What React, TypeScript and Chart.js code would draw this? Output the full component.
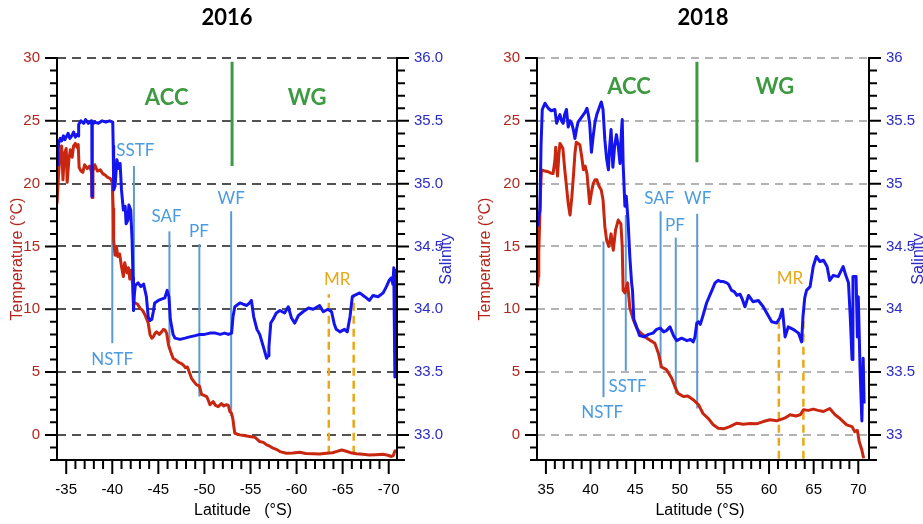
import React, { useEffect, useRef } from 'react';
import { Chart, registerables } from 'chart.js';

Chart.register(...registerables);

// ---------- 2016 transect ----------
const temp2016: [number, number][] = [
  [-34.0, 18.4], [-34.15, 20.5], [-34.3, 22.1], [-34.5, 23.0], [-34.65, 20.3], [-34.8, 22.4],
  [-35.0, 22.8], [-35.1, 20.1], [-35.3, 22.0], [-35.45, 22.7], [-35.65, 22.1], [-35.8, 23.0],
  [-36.0, 23.2], [-36.15, 22.9], [-36.3, 23.1], [-36.4, 21.3], [-36.6, 21.0], [-36.8, 20.9],
  [-37.0, 21.5], [-37.3, 21.2], [-37.55, 21.4], [-37.75, 20.9], [-37.8, 18.9], [-37.9, 21.0],
  [-38.1, 21.5], [-38.4, 21.0], [-38.7, 21.1], [-38.95, 20.8], [-39.2, 20.7], [-39.5, 20.5],
  [-39.8, 20.4], [-40.0, 20.1], [-40.1, 18.0], [-40.15, 15.5], [-40.3, 14.3], [-40.45, 15.0],
  [-40.6, 14.2], [-40.8, 14.4], [-41.0, 13.4], [-41.2, 12.6], [-41.35, 13.7], [-41.6, 12.9],
  [-41.75, 13.3], [-41.9, 12.4], [-42.05, 13.1], [-42.2, 12.0], [-42.3, 10.5], [-42.5, 10.5],
  [-42.75, 10.4], [-43.0, 10.1], [-43.3, 9.9], [-43.55, 9.55], [-43.75, 9.2], [-43.9, 8.9],
  [-44.1, 7.96], [-44.3, 7.7], [-44.45, 7.8], [-44.65, 8.1], [-44.8, 8.2], [-45.1, 8.0],
  [-45.35, 8.2], [-45.55, 8.4], [-45.7, 8.36], [-45.9, 8.1], [-46.1, 7.16], [-46.35, 6.6],
  [-46.6, 6.1], [-46.9, 5.95], [-47.15, 5.8], [-47.45, 5.7], [-47.7, 5.57], [-47.95, 5.35],
  [-48.15, 5.4], [-48.4, 4.9], [-48.6, 4.5], [-48.9, 4.2], [-49.15, 3.98], [-49.45, 3.9],
  [-49.7, 3.2], [-49.95, 3.15], [-50.25, 3.05], [-50.45, 2.7], [-50.6, 2.4], [-50.95, 2.65],
  [-51.2, 2.35], [-51.5, 2.25], [-51.85, 2.5], [-52.1, 2.3], [-52.4, 2.4], [-52.6, 2.35],
  [-52.75, 1.86], [-52.95, 1.7], [-53.1, 1.2], [-53.2, 0.6], [-53.3, 0.13], [-53.6, 0.05],
  [-53.85, 0.0], [-54.3, -0.05], [-54.9, -0.13], [-55.5, -0.2], [-56.0, -0.53], [-56.4, -0.6],
  [-56.75, -0.8], [-57.1, -0.9], [-57.45, -1.06], [-57.8, -1.15], [-58.2, -1.33], [-58.9, -1.46],
  [-59.6, -1.45], [-60.35, -1.38], [-61.0, -1.48], [-61.8, -1.5], [-62.5, -1.52], [-63.25, -1.46],
  [-63.9, -1.42], [-64.3, -1.33], [-64.9, -1.2], [-65.4, -1.3], [-66.0, -1.45], [-66.5, -1.5],
  [-67.2, -1.55], [-67.9, -1.6], [-68.6, -1.58], [-69.4, -1.55], [-69.9, -1.62], [-70.3, -1.72],
  [-70.5, -1.65], [-70.65, -1.33], [-70.8, -1.2],
];

const sal2016: [number, number][] = [
  [-34.0, 35.15], [-34.1, 35.25], [-34.2, 35.33], [-34.35, 35.36], [-34.5, 35.34], [-34.7, 35.38],
  [-34.85, 35.35], [-35.0, 35.37], [-35.2, 35.4], [-35.4, 35.36], [-35.6, 35.38], [-35.8, 35.41],
  [-36.0, 35.37], [-36.15, 35.39], [-36.3, 35.38], [-36.35, 35.47], [-36.6, 35.5], [-36.9, 35.48],
  [-37.1, 35.51], [-37.4, 35.48], [-37.7, 35.5], [-37.78, 35.47], [-37.8, 34.9], [-37.83, 35.47],
  [-38.1, 35.49], [-38.5, 35.48], [-38.9, 35.5], [-39.3, 35.49], [-39.7, 35.5], [-40.05, 35.49],
  [-40.1, 35.3], [-40.15, 34.95], [-40.3, 34.98], [-40.5, 35.19], [-40.7, 35.12], [-40.85, 35.16],
  [-41.0, 34.95], [-41.2, 34.79], [-41.4, 34.82], [-41.5, 34.68], [-41.7, 34.71], [-41.8, 34.83],
  [-42.0, 34.79], [-42.15, 34.55], [-42.25, 34.25], [-42.3, 33.99], [-42.4, 34.12], [-42.5, 34.19],
  [-42.8, 34.21], [-43.1, 34.18], [-43.4, 34.2], [-43.7, 34.1], [-43.9, 33.94], [-44.1, 33.91],
  [-44.3, 33.92], [-44.45, 33.98], [-44.6, 34.05], [-45.0, 34.07], [-45.35, 34.08], [-45.7, 34.09],
  [-45.95, 34.15], [-46.15, 34.1], [-46.3, 33.92], [-46.45, 33.86], [-46.6, 33.8], [-46.8, 33.77],
  [-47.35, 33.76], [-47.9, 33.77], [-48.4, 33.78], [-49.0, 33.79], [-49.5, 33.8], [-50.0, 33.8],
  [-50.6, 33.81], [-51.2, 33.81], [-51.7, 33.8], [-52.2, 33.81], [-52.6, 33.8], [-52.95, 33.81],
  [-53.1, 33.94], [-53.3, 34.02], [-53.85, 34.05], [-54.2, 34.04], [-54.6, 34.03], [-54.9, 34.05],
  [-55.1, 34.07], [-55.35, 33.94], [-55.7, 33.84], [-56.0, 33.8], [-56.4, 33.7], [-56.75, 33.61],
  [-56.9, 33.63], [-57.0, 33.7], [-57.2, 33.89], [-57.45, 33.92], [-57.8, 33.97], [-58.2, 33.99],
  [-58.7, 33.97], [-59.1, 34.02], [-59.45, 33.93], [-59.8, 33.89], [-60.2, 33.95], [-60.7, 33.98],
  [-61.3, 34.01], [-61.8, 34.0], [-62.5, 34.03], [-62.9, 33.98], [-63.4, 34.0], [-63.8, 33.98],
  [-64.1, 33.88], [-64.3, 33.84], [-64.7, 33.82], [-65.2, 33.84], [-65.5, 33.82], [-65.8, 33.94],
  [-66.05, 34.1], [-66.3, 34.11], [-66.85, 34.13], [-67.4, 34.1], [-67.9, 34.07], [-68.3, 34.11],
  [-68.85, 34.1], [-69.4, 34.13], [-69.75, 34.18], [-70.05, 34.23], [-70.3, 34.25], [-70.45, 34.2],
  [-70.55, 34.33], [-70.6, 33.95], [-70.67, 33.46], [-70.72, 34.0], [-70.75, 34.31], [-70.8, 34.07],
];

const frontNames2016 = ['NSTF', 'SSTF', 'SAF', 'PF', 'WF'];
const frontLat2016 = [-40.0, -42.35, -46.2, -49.45, -52.9];
const frontTop2016 = [19.5, 21.4, 16.2, 15.2, 17.8];
const frontBottom2016 = [7.3, 9.8, 7.3, 3.05, 1.5];
const frontLabelLat2016 = [-40.0, -42.5, -45.9, -49.4, -52.9];
const frontLabelTemp2016 = [6.0, 22.6, 17.4, 16.15, 18.8];

const ridgeLat2016 = [-63.5, -66.2];
const ridgeTop2016 = [11.2, 11.2];
const ridgeBottom2016 = [-1.5, -1.5];
const ridgeLabel2016 = [-64.4, 12.4];

const boundary2016 = { lat: -53.0, top: 29.7, bottom: 21.4 };
const regionLat2016 = [-45.9, -61.15];
const regionTemp2016 = [26.85, 26.85];

const latTicks2016 = [-35, -40, -45, -50, -55, -60, -65, -70];
const salTickLabels2016 = ['33.0', '33.5', '34.0', '34.5', '35.0', '35.5', '36.0'];

// ---------- 2018 transect ----------
const temp2018: [number, number][] = [
  [34.05, 11.8], [34.15, 12.6], [34.2, 14.5], [34.3, 17.0], [34.4, 19.5], [34.5, 21.1],
  [34.9, 21.0], [35.26, 20.95], [35.5, 20.85], [35.8, 20.8], [36.0, 21.8], [36.1, 22.9],
  [36.2, 21.5], [36.3, 20.6], [36.45, 22.3], [36.57, 23.2], [36.75, 23.0], [36.9, 22.8],
  [37.1, 21.2], [37.3, 19.8], [37.5, 18.4], [37.7, 17.5], [37.9, 18.9], [38.1, 20.8],
  [38.25, 22.4], [38.4, 23.3], [38.6, 23.2], [38.8, 23.1], [39.0, 22.2], [39.2, 21.1],
  [39.4, 21.4], [39.6, 20.8], [39.75, 19.6], [39.9, 18.4], [40.1, 19.3], [40.3, 20.0],
  [40.5, 20.3], [40.7, 20.3], [40.95, 19.8], [41.2, 19.5], [41.4, 18.7], [41.6, 16.6],
  [41.8, 15.5], [42.05, 15.0], [42.3, 16.0], [42.55, 14.7], [42.8, 16.3], [43.1, 17.1],
  [43.4, 16.8], [43.55, 15.0], [43.65, 11.5], [43.85, 11.3], [44.15, 12.1], [44.4, 10.1],
  [44.8, 9.15], [45.2, 8.46], [45.5, 8.2], [46.3, 7.7], [47.2, 7.3], [47.6, 6.5],
  [47.95, 5.4], [48.5, 5.2], [49.1, 4.5], [49.45, 3.85], [49.8, 3.3], [50.4, 3.05],
  [50.9, 3.1], [51.5, 2.8], [52.1, 2.4], [52.6, 1.7], [53.2, 1.3], [53.75, 0.8],
  [54.3, 0.53], [54.9, 0.48], [55.6, 0.66], [56.4, 0.93], [57.1, 0.85], [57.9, 0.9],
  [58.6, 0.88], [59.35, 1.06], [60.1, 1.2], [60.85, 1.12], [61.2, 1.2], [61.8, 1.35],
  [62.35, 1.6], [63.0, 1.5], [63.5, 1.6], [63.85, 2.0], [64.4, 1.95], [64.95, 2.05],
  [65.5, 1.95], [66.1, 1.86], [66.8, 2.1], [67.4, 1.6], [67.95, 1.3], [68.7, 0.8],
  [69.3, 0.66], [69.6, 0.26], [69.9, 0.35], [70.1, -0.53], [70.4, -1.2], [70.6, -1.86],
];

const sal2018: [number, number][] = [
  [34.1, 34.66], [34.2, 34.74], [34.33, 34.79], [34.45, 35.3], [34.59, 35.59], [34.9, 35.64],
  [35.26, 35.6], [35.6, 35.58], [36.0, 35.59], [36.2, 35.48], [36.4, 35.52], [36.57, 35.55],
  [36.75, 35.5], [36.94, 35.48], [37.1, 35.55], [37.3, 35.59], [37.5, 35.45], [37.7, 35.5],
  [37.9, 35.48], [38.1, 35.42], [38.25, 35.36], [38.45, 35.44], [38.6, 35.49], [38.9, 35.52],
  [39.2, 35.55], [39.4, 35.57], [39.6, 35.6], [39.75, 35.55], [39.9, 35.48], [40.1, 35.25],
  [40.3, 35.38], [40.5, 35.49], [40.7, 35.55], [40.9, 35.59], [41.2, 35.65], [41.4, 35.59],
  [41.6, 35.35], [41.8, 35.2], [42.0, 35.11], [42.15, 35.3], [42.3, 35.43], [42.5, 35.13],
  [42.7, 35.3], [42.9, 35.39], [43.1, 35.3], [43.3, 35.16], [43.45, 35.4], [43.55, 35.51],
  [43.65, 35.16], [43.85, 34.82], [44.0, 34.9], [44.2, 34.71], [44.4, 34.42], [44.6, 34.21],
  [44.7, 34.15], [44.85, 33.92], [45.2, 33.85], [45.5, 33.79], [46.0, 33.78], [46.5, 33.8],
  [47.0, 33.81], [47.4, 33.84], [47.8, 33.85], [48.2, 33.82], [48.5, 33.83], [48.9, 33.86],
  [49.3, 33.79], [49.65, 33.75], [50.2, 33.77], [50.8, 33.75], [51.2, 33.76], [51.5, 33.74],
  [51.7, 33.78], [51.9, 33.89], [52.1, 33.9], [52.3, 33.88], [52.6, 33.95], [53.0, 34.05],
  [53.3, 34.1], [53.6, 34.15], [53.95, 34.21], [54.3, 34.23], [54.6, 34.22], [54.9, 34.22],
  [55.25, 34.21], [55.45, 34.2], [55.8, 34.15], [56.1, 34.14], [56.4, 34.11], [56.75, 34.12],
  [57.0, 34.08], [57.3, 34.02], [57.7, 34.11], [58.2, 34.06], [58.8, 34.07], [59.35, 34.02],
  [59.9, 33.95], [60.3, 33.9], [60.85, 33.89], [61.2, 33.93], [61.5, 34.0], [61.8, 33.78],
  [62.15, 33.86], [62.7, 33.84], [63.3, 33.81], [63.65, 33.74], [63.8, 33.94], [64.0, 34.09],
  [64.2, 34.15], [64.6, 34.18], [64.95, 34.34], [65.3, 34.42], [65.7, 34.38], [66.1, 34.39],
  [66.5, 34.34], [66.8, 34.23], [67.2, 34.27], [67.75, 34.26], [68.3, 34.34], [68.6, 34.27],
  [68.9, 34.21], [69.1, 33.94], [69.3, 33.6], [69.4, 34.26], [69.75, 34.26], [69.9, 33.78],
  [70.0, 34.1], [70.2, 33.52], [70.4, 33.11], [70.55, 33.61], [70.65, 33.25],
];

const frontNames2018 = ['NSTF', 'SSTF', 'SAF', 'PF', 'WF'];
const frontLat2018 = [41.45, 43.95, 47.85, 49.55, 51.95];
const frontTop2018 = [15.4, 17.5, 17.8, 15.7, 17.6];
const frontBottom2018 = [3.0, 5.1, 5.3, 3.3, 2.1];
const frontLabelLat2018 = [41.3, 44.15, 47.7, 49.46, 52.0];
const frontLabelTemp2018 = [1.78, 3.82, 18.8, 16.66, 18.8];

const ridgeLat2018 = [61.1, 63.85];
const ridgeTop2018 = [9.4, 9.4];
const ridgeBottom2018 = [-1.9, -1.9];
const ridgeLabel2018 = [62.35, 12.44];

const boundary2018 = { lat: 51.92, top: 29.7, bottom: 21.7 };
const regionLat2018 = [44.3, 60.66];
const regionTemp2018 = [27.66, 27.66];

const latTicks2018 = [35, 40, 45, 50, 55, 60, 65, 70];
const salTickLabels2018 = ['33', '33.5', '34', '34.5', '35', '35.5', '36'];

// ---------- shared ----------
const regionNames = ['ACC', 'WG'];
const tempTicks = [0, 5, 10, 15, 20, 25, 30];
const salTicks = [33, 33.5, 34, 34.5, 35, 35.5, 36];

const RED = '#c8260f';
const BLUE = '#1414ee';
const RED_TEXT = '#b5251c';
const BLUE_TEXT = '#2b2bc8';
const FRONT = '#5b9bd5';
const FRONT_TEXT = '#4a9be0';
const GREEN = '#3d9a40';
const ORANGE = '#e8a817';
const TICK_FONT = "'Liberation Sans Narrow', 'Liberation Sans', Arial, sans-serif";
const TITLE_FONT = "'Liberation Sans', Arial, sans-serif";
const LABEL_FONT = "Lato, 'Open Sans', sans-serif";

type Panel = {
  title: string;
  xTitle: string;
  xTitleShift: number;
  tempTitleGap: number;
  width: number;
  plotLeft: number;
  plotRight: number;
  xMin: number;
  xMax: number;
  reverse: boolean;
  temp: [number, number][];
  sal: [number, number][];
  latTicks: number[];
  salTickLabels: string[];
  frontNames: string[];
  frontLat: number[];
  frontTop: number[];
  frontBottom: number[];
  frontLabelLat: number[];
  frontLabelTemp: number[];
  ridgeLat: number[];
  ridgeTop: number[];
  ridgeBottom: number[];
  ridgeLabel: number[];
  boundary: { lat: number; top: number; bottom: number };
  regionLat: number[];
  regionTemp: number[];
  gridColor: string;
  gridDash: number[];
};

const panel2016: Panel = {
  title: '2016', xTitle: 'Latitude   (°S)', xTitleShift: 16, tempTitleGap: 39,
  width: 462, plotLeft: 57, plotRight: 397,
  xMin: -70.9, xMax: -34.0, reverse: true,
  temp: temp2016, sal: sal2016, latTicks: latTicks2016, salTickLabels: salTickLabels2016,
  frontNames: frontNames2016, frontLat: frontLat2016, frontTop: frontTop2016, frontBottom: frontBottom2016,
  frontLabelLat: frontLabelLat2016, frontLabelTemp: frontLabelTemp2016,
  ridgeLat: ridgeLat2016, ridgeTop: ridgeTop2016, ridgeBottom: ridgeBottom2016, ridgeLabel: ridgeLabel2016,
  boundary: boundary2016, regionLat: regionLat2016, regionTemp: regionTemp2016,
  gridColor: '#1a1a1a', gridDash: [9, 6],
};

const panel2018: Panel = {
  title: '2018', xTitle: 'Latitude (°S)', xTitleShift: -3, tempTitleGap: 51,
  width: 461, plotLeft: 75, plotRight: 407,
  xMin: 34.0, xMax: 71.2, reverse: false,
  temp: temp2018, sal: sal2018, latTicks: latTicks2018, salTickLabels: salTickLabels2018,
  frontNames: frontNames2018, frontLat: frontLat2018, frontTop: frontTop2018, frontBottom: frontBottom2018,
  frontLabelLat: frontLabelLat2018, frontLabelTemp: frontLabelTemp2018,
  ridgeLat: ridgeLat2018, ridgeTop: ridgeTop2018, ridgeBottom: ridgeBottom2018, ridgeLabel: ridgeLabel2018,
  boundary: boundary2018, regionLat: regionLat2018, regionTemp: regionTemp2018,
  gridColor: '#9a9a9a', gridDash: [8, 6],
};

const HEIGHT = 524;

// Axes frame, dashed grid, minor/major tick marks, titles and annotation text
const framePlugin = {
  id: 'frame',
  beforeDatasetsDraw(chart: any, _args: any, opts: any) {
    const p: Panel = opts.panel;
    const { ctx, chartArea: a } = chart;
    const yT = chart.scales.temp;
    ctx.save();
    ctx.strokeStyle = p.gridColor;
    ctx.lineWidth = 1.5;
    ctx.setLineDash(p.gridDash);
    for (const v of tempTicks) {
      const y = Math.round(yT.getPixelForValue(v));
      ctx.beginPath();
      ctx.moveTo(a.left, y);
      ctx.lineTo(a.right, y);
      ctx.stroke();
    }
    ctx.restore();
  },
  afterDatasetsDraw(chart: any, _args: any, opts: any) {
    const p: Panel = opts.panel;
    const { ctx, chartArea: a } = chart;
    const xS = chart.scales.x;
    const yT = chart.scales.temp;
    const yS = chart.scales.sal;
    ctx.save();
    ctx.setLineDash([]);
    ctx.strokeStyle = '#000';
    ctx.lineWidth = 2;
    // axis lines
    ctx.beginPath();
    ctx.moveTo(a.left, a.top - 1);
    ctx.lineTo(a.left, a.bottom);
    ctx.lineTo(a.right, a.bottom);
    ctx.moveTo(a.right, a.top - 1);
    ctx.lineTo(a.right, a.bottom);
    ctx.stroke();
    // latitude ticks
    const lo = Math.ceil(Math.min(xS.min, xS.max));
    const hi = Math.floor(Math.max(xS.min, xS.max));
    ctx.beginPath();
    for (let v = lo; v <= hi; v++) {
      const x = xS.getPixelForValue(v);
      if (x < a.left + 2 || x > a.right - 2) continue;
      const len = v % 5 === 0 ? 14 : 9;
      ctx.moveTo(x, a.bottom + 1);
      ctx.lineTo(x, a.bottom + len);
    }
    ctx.stroke();
    // temperature ticks
    ctx.beginPath();
    for (let v = -2; v <= 30; v++) {
      const y = yT.getPixelForValue(v);
      const len = v % 5 === 0 ? 12 : 7;
      ctx.moveTo(a.left, y);
      ctx.lineTo(a.left - len, y);
    }
    ctx.stroke();
    // salinity ticks
    ctx.beginPath();
    for (let i = 0; i <= 32; i++) {
      const v = 32.8 + i * 0.1;
      const y = yS.getPixelForValue(v);
      const major = (i + 3) % 5 === 0;
      ctx.moveTo(a.right, y);
      ctx.lineTo(a.right + (major ? 12 : 8), y);
    }
    ctx.stroke();

    ctx.textAlign = 'center';
    ctx.textBaseline = 'middle';

    // plot title
    const cx = (a.left + a.right) / 2;
    ctx.fillStyle = '#000';
    ctx.font = `bold 22px ${LABEL_FONT}`;
    ctx.fillText(p.title, cx, 18);

    // latitude title
    ctx.font = `16px ${TICK_FONT}`;
    ctx.fillText(p.xTitle, cx + p.xTitleShift, 511);

    // vertical axis titles
    const cy = (a.top + a.bottom) / 2;
    ctx.font = `16px ${TITLE_FONT}`;
    ctx.save();
    ctx.translate(a.left - p.tempTitleGap, cy);
    ctx.rotate(-Math.PI / 2);
    ctx.fillStyle = RED_TEXT;
    ctx.fillText('Temperature (°C)', 0, 0);
    ctx.restore();
    ctx.save();
    ctx.translate(a.right + 50, cy);
    ctx.rotate(-Math.PI / 2);
    ctx.fillStyle = BLUE_TEXT;
    ctx.fillText('Salinity', 0, 0);
    ctx.restore();

    // front names
    ctx.font = `17px ${LABEL_FONT}`;
    ctx.fillStyle = FRONT_TEXT;
    p.frontNames.forEach((name, i) => {
      ctx.fillText(name, xS.getPixelForValue(p.frontLabelLat[i]), yT.getPixelForValue(p.frontLabelTemp[i]));
    });
    ctx.fillStyle = ORANGE;
    ctx.fillText('MR', xS.getPixelForValue(p.ridgeLabel[0]), yT.getPixelForValue(p.ridgeLabel[1]));

    // region names
    ctx.font = `bold 22px ${LABEL_FONT}`;
    ctx.fillStyle = GREEN;
    regionNames.forEach((name, i) => {
      ctx.fillText(name, xS.getPixelForValue(p.regionLat[i]), yT.getPixelForValue(p.regionTemp[i]));
    });
    ctx.restore();
  },
};

function buildConfig(p: Panel): any {
  const verticals = (lat: number[], top: number[], bottom: number[], color: string, width: number, dash: number[]) =>
    lat.map((x, i) => ({
      data: [{ x, y: bottom[i] }, { x, y: top[i] }],
      yAxisID: 'temp',
      borderColor: color,
      borderWidth: width,
      borderDash: dash,
      pointRadius: 0,
    }));

  const datasets: any[] = [
    {
      label: 'Salinity',
      data: p.sal.map(([x, y]) => ({ x, y })),
      yAxisID: 'sal',
      borderColor: BLUE,
      borderWidth: 3,
      pointRadius: 0,
      borderJoinStyle: 'round',
    },
    {
      label: 'Temperature',
      data: p.temp.map(([x, y]) => ({ x, y })),
      yAxisID: 'temp',
      borderColor: RED,
      borderWidth: 3,
      pointRadius: 0,
      borderJoinStyle: 'round',
    },
    ...verticals(p.frontLat, p.frontTop, p.frontBottom, FRONT, 2, []),
    ...verticals(p.ridgeLat, p.ridgeTop, p.ridgeBottom, ORANGE, 2.5, [8, 5]),
    ...verticals([p.boundary.lat], [p.boundary.top], [p.boundary.bottom], GREEN, 3, []),
  ];

  return {
    type: 'line',
    data: { datasets },
    plugins: [framePlugin],
    options: {
      animation: false,
      responsive: false,
      devicePixelRatio: 1,
      layout: { padding: { top: 58, left: 0, right: 0, bottom: 0 } },
      plugins: {
        legend: { display: false },
        tooltip: { enabled: false },
        title: { display: false },
        frame: { panel: p },
      },
      scales: {
        x: {
          type: 'linear',
          min: p.xMin,
          max: p.xMax,
          reverse: p.reverse,
          grid: { display: false, drawTicks: false },
          border: { display: false },
          ticks: {
            color: '#000',
            font: { family: TICK_FONT, size: 15 },
            padding: 21,
            autoSkip: false,
            maxRotation: 0,
            callback: (v: number) => String(v),
          },
          afterBuildTicks: (s: any) => {
            s.ticks = p.latTicks.map((value) => ({ value }));
          },
          afterFit: (s: any) => {
            s.height = 64;
          },
        },
        temp: {
          type: 'linear',
          position: 'left',
          min: -2,
          max: 30,
          grid: { display: false, drawTicks: false },
          border: { display: false },
          ticks: {
            color: RED_TEXT,
            font: { family: TICK_FONT, size: 15 },
            padding: 17,
            callback: (v: number) => String(v),
          },
          afterBuildTicks: (s: any) => {
            s.ticks = tempTicks.map((value) => ({ value }));
          },
          afterFit: (s: any) => {
            s.width = p.plotLeft;
          },
        },
        sal: {
          type: 'linear',
          position: 'right',
          min: 32.8,
          max: 36.0,
          grid: { display: false, drawTicks: false },
          border: { display: false },
          ticks: {
            color: BLUE_TEXT,
            font: { family: TICK_FONT, size: 15 },
            padding: 17,
            callback: (_v: number, i: number) => p.salTickLabels[i],
          },
          afterBuildTicks: (s: any) => {
            s.ticks = salTicks.map((value) => ({ value }));
          },
          afterFit: (s: any) => {
            s.width = p.width - p.plotRight;
          },
        },
      },
    },
  };
}

function TransectChart({ panel }: { panel: Panel }) {
  const ref = useRef<HTMLCanvasElement | null>(null);
  useEffect(() => {
    if (!ref.current) return;
    const chart = new Chart(ref.current, buildConfig(panel));
    return () => chart.destroy();
  }, [panel]);
  return (
    <canvas
      ref={ref}
      width={panel.width}
      height={HEIGHT}
      style={{ display: 'block', width: panel.width, height: HEIGHT }}
    />
  );
}

export default function App() {
  return (
    <div
      style={{
        position: 'absolute',
        left: 0,
        top: 0,
        width: 923,
        height: HEIGHT,
        display: 'flex',
        background: '#fff',
      }}
    >
      <TransectChart panel={panel2016} />
      <TransectChart panel={panel2018} />
    </div>
  );
}
